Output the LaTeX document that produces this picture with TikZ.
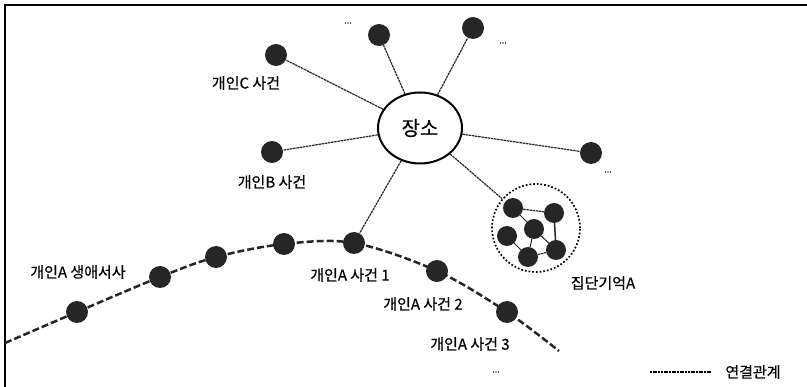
\documentclass[tikz,border=0pt]{standalone}
\usepackage{fontspec}
\setmainfont{Noto Sans CJK KR}[FakeBold=0.5]
\usetikzlibrary{shapes.geometric}
\begin{document}
\begin{tikzpicture}[x=1pt,y=-1pt,
  dot/.style={circle,fill=black!85,draw=none,minimum size=22pt,inner sep=0pt},
  sdot/.style={circle,fill=black!85,draw=none,minimum size=20pt,inner sep=0pt},
  spoke/.style={line width=1.2pt,dash pattern=on 2.5pt off 0.7pt,black!85},
  inner/.style={line width=1pt,black!85},
  lifeline/.style={line width=2.5pt,dash pattern=on 7pt off 3pt,black!85},
  lbl/.style={font=\fontsize{15}{17}\selectfont,inner sep=0pt},
  dots/.style={font=\fontsize{9}{10}\selectfont,inner sep=0pt}]
\useasboundingbox (0,0) rectangle (807,387);
% frame
\draw[line width=1.5pt] (5,387) -- (5,5) -- (807,5);
% life curve coordinates
\coordinate (c0) at (5,343);
\coordinate (c1) at (77,312);
\coordinate (c2) at (160,277);
\coordinate (c3) at (216,257);
\coordinate (c4) at (284,244);
\coordinate (c5) at (354,243);
\coordinate (c6) at (437,271);
\coordinate (c7) at (507,312);
\coordinate (c8) at (559,351);
\draw[lifeline] plot[smooth,tension=0.55] coordinates {(c0) (c1) (c2) (c3) (c4) (c5) (c6) (c7) (c8)};
\foreach \i in {1,...,7} \node[dot] (a\i) at (c\i) {};
% place
\node[ellipse,draw,line width=2pt,minimum width=84pt,minimum height=71pt,inner sep=0pt,
      font=\fontsize{20}{22}\selectfont] (place) at (420,128) {장소};
% peripheral nodes
\node[dot] (nc) at (276,55) {};
\node[dot] (nb) at (272,152) {};
\node[dot] (t1) at (379,35) {};
\node[dot] (t2) at (473,28) {};
\node[dot] (nr) at (591,153) {};
% cluster
\node[circle,draw,dotted,line width=1.7pt,minimum size=88pt,inner sep=0pt] (cl) at (536,228) {};
\node[sdot] (k1) at (513,208) {};
\node[sdot] (k2) at (554,213) {};
\node[sdot] (k3) at (534,229) {};
\node[sdot] (k4) at (507,236) {};
\node[sdot] (k5) at (556,250) {};
\node[sdot] (k6) at (528,257) {};
\draw[spoke] (k1) -- (k2);
\draw[inner] (k1) -- (k3);
\draw[inner,line width=1.5pt] (k2) -- (k5);
\draw[inner] (k3) -- (k5);
\draw[inner] (k3) -- (k6);
\draw[inner] (k4) -- (k6);
\draw[spoke] (k6) -- (k5);
% spokes
\foreach \n in {nc,nb,t1,t2,nr,a5,cl} \draw[spoke] (place) -- (\n);
% labels
\node[lbl] at (246,83) {개인C 사건};
\node[lbl] at (272,182) {개인B 사건};
\node[lbl] at (78,272) {개인A 생애서사};
\node[lbl] at (350,275) {개인A 사건 1};
\node[lbl] at (423,304) {개인A 사건 2};
\node[lbl] at (470,344) {개인A 사건 3};
\node[lbl] at (603,283) {집단기억A};
\node[dots] at (348,23) {...};
\node[dots] at (503,43) {...};
\node[dots] at (608,172) {...};
\node[dots] at (496,372) {...};
% legend
\coordinate (lg1) at (650,372);
\coordinate (lg2) at (712,372);
\draw[line width=1.4pt,dash pattern=on 2pt off 0.7pt] (lg1) -- (lg2);
\node[lbl] at (753,372) {연결관계};
\end{tikzpicture}
\end{document}
